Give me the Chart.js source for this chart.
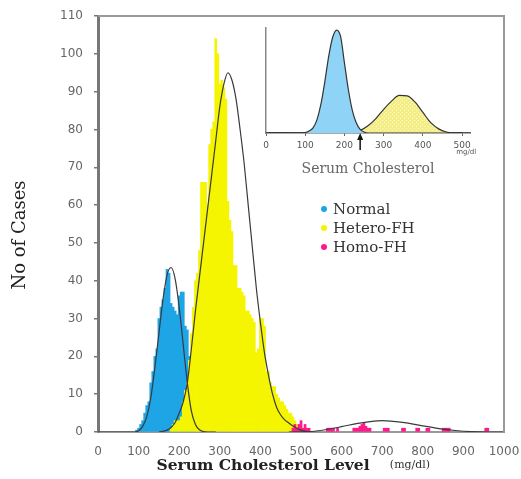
<!DOCTYPE html>
<html>
<head>
<meta charset="utf-8">
<script src="https://cdn.jsdelivr.net/npm/chart.js@4.4.1/dist/chart.umd.min.js"></script>
<style>
  body { margin: 0; background: #fff; }
  #wrap { position: relative; width: 521px; height: 479px; }
  #mainChart { position: absolute; left: 0; top: 0; }
  #insetChart { position: absolute; left: 252px; top: 18px; }
</style>
</head>
<body>
<div id="wrap">
  <canvas id="mainChart" width="521" height="479"></canvas>
  <canvas id="insetChart" width="228" height="168"></canvas>
</div>
<script>
// histogram bins (mg/dl) and number of cases
const normalBinX = [95,100,105,110,115,120,125,130,135,140,145,150,155,160,165,170,175,180,185,190,195,200,205,210,215,220,225,230,235];
const normalCount = [0.5,1,2,3,5,7,8,13,16,20,22,30,33,35,38,43,42,34,33,32,31,36,37,37,28,27,20,12,5];

const heteroBinX = [180,185,190,195,200,205,210,215,220,225,230,235,240,245,250,255,260,265,270,275,280,285,290,295,300,305,310,315,320,325,330,335,340,345,350,355,360,365,370,375,380,385,390,395,400,405,410,415,420,425,430,435,440,445,450,455,460,465,470,475,480,485,490,495,500];
const heteroCount = [1,2,3,3,3,4,8,11,13,19,26,33,40,42,48,66,66,66,60,76,80,82,104,100,92,93,91,88,61,56,53,44,44,38,38,37,36,32,32,31,30,29,21,22,30,30,28,16,16,13,12,12,10,9,8,8,7,6,5,5,4,3,2,2,1];

const homoBinX = [480,485,490,495,500,505,510,515,520,565,570,575,580,590,630,635,640,645,650,655,660,665,670,705,710,715,750,755,785,790,810,815,850,855,860,865,955,960];
const homoCount = [1,2,1,2,3,1,2,1,1,1,1,1,1,1,1,1,1,1.5,2,2.5,1.5,1,1,1,1,1,1,1,1,1,1,1,1,1,1,1,1,1];

// fitted curves
const normalCurveX = [0,90,100,110,120,130,140,150,160,170,180,190,200,210,220,230,240,250,260,270,290];
const normalCurveY = [0,0,0.3,1.5,4,9,17,26,35,41.5,43.5,40.5,33,23,13,5.5,2,0.6,0.1,0,0];

const heteroCurveX = [150,170,180,190,200,210,220,230,240,250,260,270,280,290,300,310,320,330,340,350,360,370,380,390,400,410,420,430,440,450,460,470,480,490,500,520];
const heteroCurveY = [0,0.5,1.2,2.5,5,8,13,22,32,41,50,59,68,77,86,92,95,93,88,80,71,60,49,38,29,21,15,10,6.5,4.5,3.2,2.4,1.6,1,0.5,0];

const homoCurveX = [470,520,560,600,640,680,700,720,760,800,840,880,920,960,1000];
const homoCurveY = [0,0.1,0.6,1.4,2.3,2.9,3,2.9,2.4,1.6,0.9,0.4,0.1,0,0];

const xTicks = [0,100,200,300,400,500,600,700,800,900,1000];
const yTicks = [0,10,20,30,40,50,60,70,80,90,100,110];

// inset: population distributions
const insetNormalX = [0,100,110,120,130,140,150,160,170,180,190,200,210,220,230,240,250,260,500];
const insetNormalY = [0,0.5,2,5,13,28,50,75,93,100,94,68,42,22,10,3.5,1,0,0];
const insetHeteroX = [0,200,220,240,260,280,300,320,340,360,380,400,420,440,460,480,500];
const insetHeteroY = [0,0,0.5,2.5,7,14,23,31,36.5,36,30,20,10,4,1,0,0];
const insetTicks = [0,100,200,300,400,500];
const cutoff = 240;

const series = [
    { label: 'Normal', color: '#1ea5e6' },
    { label: 'Hetero-FH', color: '#f5f500' },
    { label: 'Homo-FH', color: '#ff1a8c' }
];

function pts(xs, ys) {
    return xs.map((x, i) => ({ x: x, y: ys[i] }));
}

function curve(xs, ys) {
    return {
        type: 'line',
        data: pts(xs, ys),
        borderColor: '#3a3a3a',
        borderWidth: 1.2,
        pointRadius: 0,
        cubicInterpolationMode: 'monotone',
        fill: false,
        order: 0
    };
}

function bars(xs, ys, color, order) {
    return {
        type: 'bar',
        data: pts(xs, ys),
        backgroundColor: color,
        borderWidth: 0,
        barPercentage: 1,
        categoryPercentage: 1,
        grouped: false,
        order: order
    };
}

const mainText = {
    id: 'mainText',
    afterDraw(chart) {
        const ctx = chart.ctx;
        const a = chart.chartArea;
        ctx.save();
        // frame top and right
        ctx.strokeStyle = '#9a9a9a';
        ctx.lineWidth = 2;
        ctx.beginPath();
        ctx.moveTo(a.left, a.top);
        ctx.lineTo(a.right, a.top);
        ctx.lineTo(a.right, a.bottom);
        ctx.stroke();

        // axis titles
        ctx.fillStyle = '#222';
        ctx.textAlign = 'center';
        ctx.textBaseline = 'middle';
        ctx.font = 'bold 15.5px "DejaVu Serif"';
        ctx.fillText('Serum Cholesterol Level', 263, 466);
        ctx.font = '11px "DejaVu Serif"';
        ctx.fillStyle = '#333';
        ctx.fillText('(mg/dl)', 410, 465);

        ctx.save();
        ctx.translate(20, 235);
        ctx.rotate(-Math.PI / 2);
        ctx.font = '18px "DejaVu Serif"';
        ctx.fillStyle = '#222';
        ctx.fillText('No of Cases', 0, 0);
        ctx.restore();

        // legend
        ctx.textAlign = 'left';
        ctx.font = '15px "DejaVu Serif"';
        series.forEach((s, i) => {
            const y = 209 + i * 19;
            ctx.fillStyle = s.color;
            ctx.beginPath();
            ctx.arc(324, y, 3, 0, Math.PI * 2);
            ctx.fill();
            ctx.fillStyle = '#333';
            ctx.fillText(s.label, 333, y + 1);
        });
        ctx.restore();
    }
};

new Chart(document.getElementById('mainChart'), {
    type: 'bar',
    data: {
        datasets: [
            curve(normalCurveX, normalCurveY),
            curve(heteroCurveX, heteroCurveY),
            curve(homoCurveX, homoCurveY),
            bars(homoBinX, homoCount, series[2].color, 1),
            bars(heteroBinX, heteroCount, series[1].color, 2),
            bars(normalBinX, normalCount, series[0].color, 3)
        ]
    },
    options: {
        responsive: false,
        animation: false,
        layout: { padding: { top: 16, right: 17, left: 0, bottom: 0 } },
        plugins: { legend: { display: false }, tooltip: { enabled: false } },
        scales: {
            x: {
                type: 'linear',
                min: 0,
                max: 1000,
                offset: false,
                afterBuildTicks: s => { s.ticks = xTicks.map(v => ({ value: v })); },
                afterFit: s => { s.height = 47; s.paddingRight = 0; s.paddingLeft = 0; },
                grid: { display: false },
                border: { display: true, color: '#999', width: 2 },
                ticks: {
                    font: { family: 'DejaVu Sans', size: 12 },
                    color: '#666',
                    padding: 5,
                    maxRotation: 0,
                    callback: v => String(v)
                }
            },
            y: {
                min: 0,
                max: 110,
                afterBuildTicks: s => { s.ticks = yTicks.map(v => ({ value: v })); },
                afterFit: s => { s.width = 98; s.paddingTop = 0; s.paddingBottom = 0; },
                grid: { display: true, drawOnChartArea: false, tickLength: 4, color: '#777', lineWidth: 1.5 },
                border: { display: true, color: '#777', width: 3 },
                ticks: { font: { family: 'DejaVu Sans', size: 12 }, color: '#666', padding: 11, callback: v => String(v) }
            }
        }
    },
    plugins: [mainText]
});

const insetText = {
    id: 'insetText',
    afterDraw(chart) {
        const ctx = chart.ctx;
        const xs = chart.scales.x;
        const a = chart.chartArea;
        const px = xs.getPixelForValue(cutoff);
        ctx.save();
        // cutoff arrow
        ctx.strokeStyle = '#111';
        ctx.fillStyle = '#111';
        ctx.lineWidth = 1.5;
        ctx.beginPath();
        ctx.moveTo(px, a.bottom + 17);
        ctx.lineTo(px, a.bottom + 4);
        ctx.stroke();
        ctx.beginPath();
        ctx.moveTo(px, a.bottom);
        ctx.lineTo(px - 3, a.bottom + 7);
        ctx.lineTo(px + 3, a.bottom + 7);
        ctx.closePath();
        ctx.fill();
        // unit under 500
        ctx.fillStyle = '#555';
        ctx.font = '7px "DejaVu Sans"';
        ctx.textAlign = 'center';
        ctx.fillText('mg/dl', xs.getPixelForValue(500) + 4, a.bottom + 21);
        ctx.restore();
    }
};

// light yellow with a fine white cross-hatch, like the inset fill
function hatch() {
    const c = document.createElement('canvas');
    c.width = 4;
    c.height = 4;
    const g = c.getContext('2d');
    g.fillStyle = '#f4ee86';
    g.fillRect(0, 0, 4, 4);
    g.fillStyle = '#fbf8cf';
    g.fillRect(0, 0, 1, 1);
    g.fillRect(2, 2, 1, 1);
    return g.createPattern(c, 'repeat');
}

function area(xs, ys, fillColor) {
    return {
        data: pts(xs, ys),
        borderColor: '#333',
        borderWidth: 1.2,
        backgroundColor: fillColor,
        pointRadius: 0,
        cubicInterpolationMode: 'monotone',
        fill: 'origin'
    };
}

new Chart(document.getElementById('insetChart'), {
    type: 'line',
    data: {
        datasets: [
            area(insetNormalX, insetNormalY, '#8fd4f6'),
            area(insetHeteroX, insetHeteroY, hatch())
        ]
    },
    options: {
        responsive: false,
        animation: false,
        layout: { padding: { top: 10, right: 10, left: 0, bottom: 8 } },
        plugins: { legend: { display: false }, tooltip: { enabled: false } },
        scales: {
            x: {
                type: 'linear',
                min: 0,
                max: 520,
                afterBuildTicks: s => { s.ticks = insetTicks.map(v => ({ value: v })); },
                afterFit: s => { s.height = 45; s.paddingRight = 0; s.paddingLeft = 0; },
                grid: { display: true, drawOnChartArea: false, tickLength: 3, color: '#666' },
                border: { display: true, color: '#555', width: 1.5 },
                ticks: { font: { family: 'DejaVu Sans', size: 9 }, color: '#555', padding: 4, maxRotation: 0 },
                title: {
                    display: true,
                    text: 'Serum Cholesterol',
                    font: { family: 'DejaVu Serif', size: 14 },
                    color: '#666',
                    padding: { top: 3, bottom: 0 }
                }
            },
            y: {
                min: 0,
                max: 102,
                afterFit: s => { s.width = 14; },
                grid: { display: false },
                border: { display: true, color: '#888', width: 1.5 },
                ticks: { display: false }
            }
        }
    },
    plugins: [insetText]
});
</script>
</body>
</html>
